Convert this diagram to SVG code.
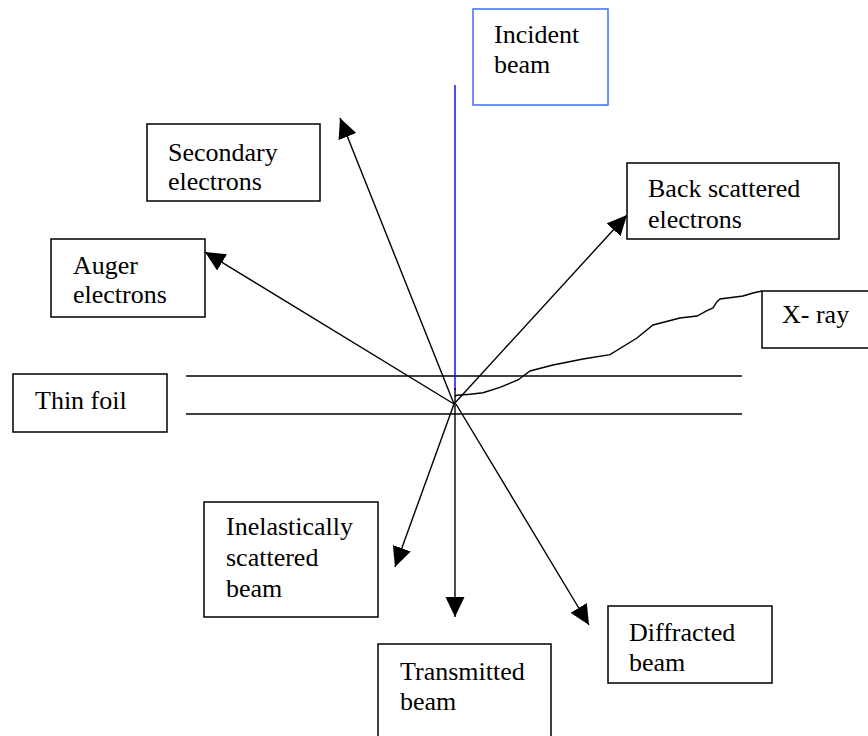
<svg xmlns="http://www.w3.org/2000/svg" width="868" height="736" viewBox="0 0 868 736">
<style>
.box{fill:#fff;stroke:#000;stroke-width:1.5}
.lbl{font-family:"Liberation Serif","Times New Roman",serif;font-size:26px;fill:#000}
.ln{stroke:#000;stroke-width:1.4;fill:none}
</style>
<defs>
<marker id="ah" markerUnits="userSpaceOnUse" markerWidth="22" markerHeight="20" refX="20" refY="9.5" orient="auto">
<path d="M0,0 L20,9.5 L0,19 z" fill="#000"/>
</marker>
</defs>
<rect width="868" height="736" fill="#fff"/>
<g id="foil">
<line class="ln" x1="186" y1="376" x2="742" y2="376"/>
<line class="ln" x1="186" y1="414" x2="742" y2="414"/>
</g>
<g id="connectors">
<line x1="455" y1="85" x2="455" y2="390" stroke="#0000ff" stroke-width="1.4"/>
<line class="ln" x1="455" y1="388" x2="455" y2="617" marker-end="url(#ah)"/>
<line class="ln" x1="454" y1="404" x2="340" y2="118" marker-end="url(#ah)"/>
<line class="ln" x1="454" y1="404" x2="627" y2="215" marker-end="url(#ah)"/>
<line class="ln" x1="454" y1="404" x2="205" y2="252" marker-end="url(#ah)"/>
<line class="ln" x1="454" y1="404" x2="395" y2="567" marker-end="url(#ah)"/>
<line class="ln" x1="456" y1="404" x2="589" y2="625" marker-end="url(#ah)"/>
<path class="ln" d="M455,396 L457,395.3 L470,394.3 L483,392.7 L500,387.3 L518,380 L530,371 L553,365 L583,359 L610,354.7 L637,338 L653,325 L680,318 L697,316 L707,310.7 L713,308 L717,301.7 L720,299 L743,296 L753,293 L762,291"/>
</g>
<g id="incident">
<rect x="473" y="9" width="135" height="96" fill="#fff" stroke="#3f6ef5" stroke-width="1.5"/>
<text class="lbl" x="494" y="43">Incident</text>
<text class="lbl" x="494" y="73">beam</text>
</g>
<g id="secondary">
<rect class="box" x="147" y="124" width="173" height="77"/>
<text class="lbl" x="168" y="161">Secondary</text>
<text class="lbl" x="168" y="190">electrons</text>
</g>
<g id="backscattered">
<rect class="box" x="627" y="163" width="212" height="76"/>
<text class="lbl" x="648" y="197">Back scattered</text>
<text class="lbl" x="648" y="228">electrons</text>
</g>
<g id="auger">
<rect class="box" x="51" y="239" width="154" height="78"/>
<text class="lbl" x="73" y="274">Auger</text>
<text class="lbl" x="73" y="303">electrons</text>
</g>
<g id="xray">
<rect class="box" x="762" y="291" width="120" height="57"/>
<text class="lbl" x="782" y="323">X- ray</text>
</g>
<g id="thinfoil">
<rect class="box" x="13" y="374" width="154" height="58"/>
<text class="lbl" x="35" y="409">Thin foil</text>
</g>
<g id="inelastic">
<rect class="box" x="204" y="502" width="174" height="115"/>
<text class="lbl" x="226" y="535">Inelastically</text>
<text class="lbl" x="226" y="566">scattered</text>
<text class="lbl" x="226" y="597">beam</text>
</g>
<g id="transmitted">
<rect class="box" x="378" y="644" width="173" height="100"/>
<text class="lbl" x="400" y="680">Transmitted</text>
<text class="lbl" x="400" y="710">beam</text>
</g>
<g id="diffracted">
<rect class="box" x="608" y="606" width="164" height="77"/>
<text class="lbl" x="629" y="641">Diffracted</text>
<text class="lbl" x="629" y="671">beam</text>
</g>
</svg>
